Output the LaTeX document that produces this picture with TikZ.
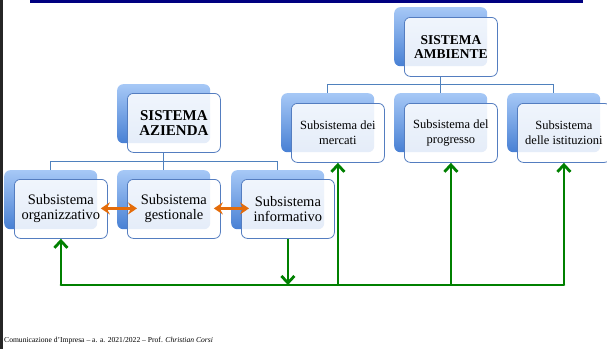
\documentclass[tikz,border=0pt]{standalone}
\usepackage{fontspec}
\setmainfont{Liberation Serif}
\usetikzlibrary{arrows.meta}
\definecolor{navybar}{RGB}{0,0,128}
\definecolor{connblue}{RGB}{79,129,189}
\definecolor{framecol}{RGB}{84,125,192}
\definecolor{shtop}{RGB}{166,200,246}
\definecolor{shbot}{RGB}{72,128,212}
\definecolor{grn}{RGB}{0,128,0}
\definecolor{org}{RGB}{228,108,10}
\begin{document}
\begin{tikzpicture}[x=1pt,y=-1pt,
  shadowbox/.style={rounded corners=6pt, top color=shtop, bottom color=shbot, draw=none,
    minimum width=93pt, minimum height=59pt, inner sep=0pt, anchor=north west},
  frontbox/.style={rounded corners=6pt, draw=framecol, line width=0.8pt, fill=white,
    fill opacity=0.86, text opacity=1, minimum width=93pt, minimum height=59pt,
    inner sep=0pt, anchor=north west, align=center},
  headfont/.style={font=\bfseries\fontsize{13.5}{14.5}\selectfont},
  leftfont/.style={font=\fontsize{14.5}{15}\selectfont},
  rightfont/.style={font=\fontsize{12.5}{15}\selectfont},
  connline/.style={draw=connblue, line width=1pt},
  grnline/.style={draw=grn, line width=2.8pt, line cap=round, line join=round},
  grnarrow/.style={grnline, line cap=butt, -{Straight Barb[length=7pt,width=13pt]}},
  orgarrow/.style={draw=org, line width=2.8pt, {Stealth[length=9pt,width=12pt,inset=3pt]}-{Stealth[length=9pt,width=12pt,inset=3pt]}}
]
\useasboundingbox (0,0) rectangle (607,349);
\clip (0,0) rectangle (607,349);
\fill[black!85] (0,0) rectangle (3,349);
\fill[navybar] (30,0) rectangle (583,2.5);

% shadows
\node[shadowbox] (sAMB) at (394,7) {};
\node[shadowbox] (sM1) at (281,93) {};
\node[shadowbox] (sM2) at (394,93) {};
\node[shadowbox] (sM3) at (507,93) {};
\node[shadowbox] (sAZ) at (117,84) {};
\node[shadowbox] (sA) at (4,170) {};
\node[shadowbox] (sB) at (117,170) {};
\node[shadowbox] (sC) at (231,170) {};

% blue connectors
\coordinate (hA) at (0,84);
\coordinate (hZ) at (0,161);
\draw[connline] (sAMB.center |- 0,76) -- (sAMB.center |- hA);
\draw[connline] (sM1.north) -- (sM1.north |- hA) -- (sM3.north |- hA) -- (sM3.north);
\draw[connline] (sM2.north) -- (sM2.north |- hA);
\draw[connline] (sAZ.center |- 0,152) -- (sAZ.center |- hZ);
\draw[connline] (sA.north) -- (sA.north |- hZ) -- (sC.north |- hZ) -- (sC.north);
\draw[connline] (sB.north) -- (sB.north |- hZ);

% front boxes
\node[frontbox, headfont] (AMB) at (404,17) {SISTEMA\\AMBIENTE};
\node[frontbox, rightfont] (M1) at (291,103) {Subsistema dei\\mercati};
\node[frontbox, rightfont] (M2) at (404,103) {Subsistema del\\progresso};
\node[frontbox, rightfont] (M3) at (517,103) {Subsistema\\delle istituzioni};
\node[frontbox, headfont, font=\bfseries\fontsize{15}{15}\selectfont] (AZ) at (127,93) {SISTEMA\\AZIENDA};
\node[frontbox, leftfont] (A) at (14,179) {Subsistema\\organizzativo};
\node[frontbox, leftfont] (B) at (127,179) {Subsistema\\gestionale};
\node[frontbox, leftfont] (C) at (241,179) {Subsistema\\informativo};

% orange double arrows
\draw[orgarrow] ([xshift=-7pt,yshift=0.5pt]A.east) -- ([xshift=10pt,yshift=0.5pt]B.west);
\draw[orgarrow] ([xshift=-7pt,yshift=0.5pt]B.east) -- ([xshift=8pt,yshift=0.5pt]C.west);

% green feedback loop
\coordinate (gy) at (0,285);
\draw[grnline] (A.south |- gy) -- (M3.south |- gy);
\draw[grnarrow] (A.south |- gy) -- (A.south);
\draw[grnarrow] (C.south) -- (C.south |- gy);
\draw[grnarrow] (M1.south |- gy) -- (M1.south);
\draw[grnarrow] (M2.south |- gy) -- (M2.south);
\draw[grnarrow] (M3.south |- gy) -- (M3.south);

% footer
\node[anchor=base west, inner sep=0pt, font=\fontsize{7.6}{8}\selectfont] (foot) at (4,342)
  {Comunicazione d’Impresa – a. a. 2021/2022 – Prof. \textit{Christian Corsi}};
\end{tikzpicture}
\end{document}
